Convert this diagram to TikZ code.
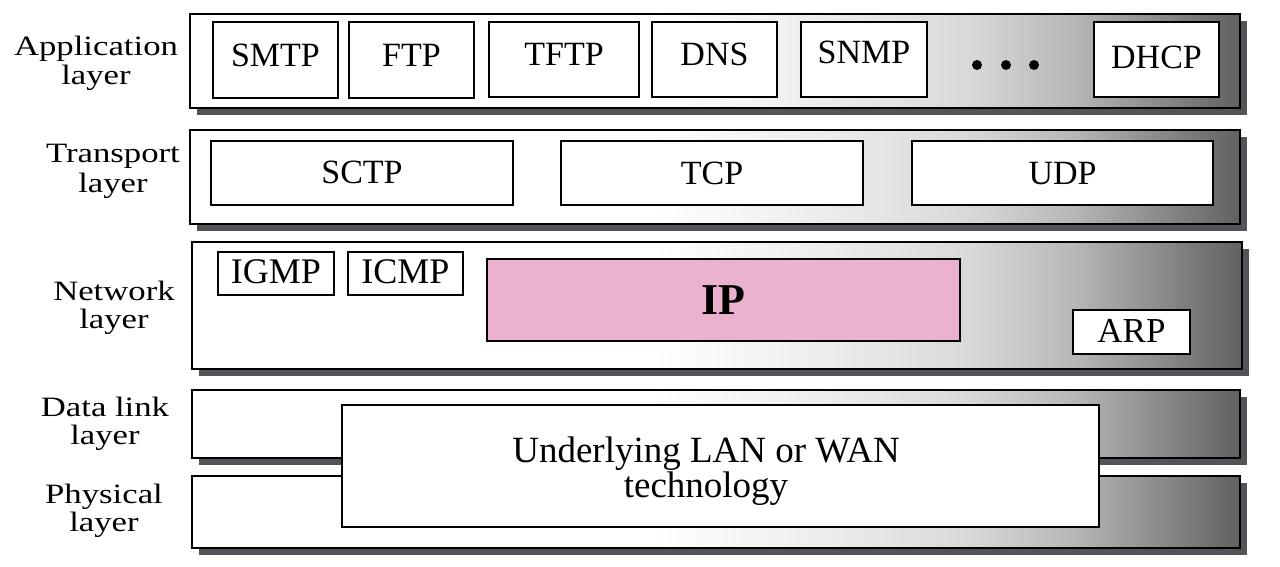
\documentclass[tikz,border=0pt]{standalone}
\usepackage{fontspec}
\setmainfont{Liberation Serif}
\newfontfamily\lblfont[FakeStretch=1.24]{Liberation Serif}
\usetikzlibrary{shadows}
\definecolor{ippink}{RGB}{235,177,206}
\definecolor{shadowgray}{RGB}{84,84,88}
\pgfdeclarehorizontalshading{layershade}{100bp}{color(0bp)=(white); color(47bp)=(white); color(56bp)=(black!8); color(62bp)=(black!15); color(67bp)=(black!28); color(75bp)=(black!62); color(100bp)=(black!62)}
\tikzset{
  layerbar/.style={draw=black, line width=1.6pt, shading=layershade, inner sep=0pt,
    drop shadow={shadow xshift=7pt, shadow yshift=-7pt, fill=shadowgray, opacity=1}},
  pbox/.style={draw=black, line width=1.2pt, fill=white, inner sep=0pt},
  ptxt/.style={font=\fontsize{34}{36}\selectfont, inner sep=0pt, anchor=base},
  lbl/.style={font=\lblfont\fontsize{28}{29}\selectfont, inner sep=0pt, anchor=base},
  dotmark/.style={circle, fill=black, minimum size=10pt, inner sep=0pt},
}
\begin{document}
\begin{tikzpicture}[x=1pt,y=-1pt]
\useasboundingbox (0,0) rectangle (1280,567);
\fill[white] (0,0) rectangle (1280,567);

% layer bars
\node[layerbar, minimum width=1050pt, minimum height=94pt] (app) at (715,61) {};
\node[layerbar, minimum width=1050pt, minimum height=94pt] (trans) at (715,177) {};
\node[layerbar, minimum width=1050pt, minimum height=127pt] (net) at (717,305.5) {};
\node[layerbar, minimum width=1048pt, minimum height=68pt] (dl) at (716,424) {};
\node[layerbar, minimum width=1048pt, minimum height=72pt] (phy) at (716,512) {};

% left labels
\node[lbl] (l1a) at (96,56) {Application};
\node[lbl] (l1b) at (96,85) {layer};
\node[lbl] (l2a) at (113,163) {Transport};
\node[lbl] (l2b) at (113,192) {layer};
\node[lbl] (l3a) at (114,300) {Network};
\node[lbl] (l3b) at (114,328) {layer};
\node[lbl] (l4a) at (105,416) {Data link};
\node[lbl] (l4b) at (105,444) {layer};
\node[lbl] (l5a) at (104,503) {Physical};
\node[lbl] (l5b) at (104,531) {layer};

% application layer protocols
\node[pbox, minimum width=125pt, minimum height=76pt] (smtp) at (275.5,60) {};
\node[ptxt] (tsmtp) at (275.5,67) {SMTP};
\node[pbox, minimum width=125pt, minimum height=76pt] (ftp) at (411.5,60) {};
\node[ptxt] (tftp1) at (411.5,67) {FTP};
\node[pbox, minimum width=150pt, minimum height=75pt] (tftp) at (564,59.5) {};
\node[ptxt] (ttftp) at (564,66) {TFTP};
\node[pbox, minimum width=125pt, minimum height=75pt] (dns) at (714.5,59.5) {};
\node[ptxt] (tdns) at (714.5,66) {DNS};
\node[pbox, minimum width=126pt, minimum height=75pt] (snmp) at (864,59.5) {};
\node[ptxt] (tsnmp) at (864,64) {SNMP};
\node[dotmark] (dot1) at (977,65) {};
\node[dotmark] (dot2) at (1006,65) {};
\node[dotmark] (dot3) at (1034,65) {};
\node[pbox, minimum width=125pt, minimum height=75pt] (dhcp) at (1156.5,59.5) {};
\node[ptxt] (tdhcp) at (1156.5,69) {DHCP};

% transport layer protocols
\node[pbox, minimum width=302pt, minimum height=64pt] (sctp) at (362,173) {};
\node[ptxt] (tsctp) at (362,183) {SCTP};
\node[pbox, minimum width=302pt, minimum height=64pt] (tcp) at (712,173) {};
\node[ptxt] (ttcp) at (712,184) {TCP};
\node[pbox, minimum width=301pt, minimum height=64pt] (udp) at (1062.5,173) {};
\node[ptxt] (tudp) at (1062.5,185) {UDP};

% network layer protocols
\node[pbox, minimum width=116pt, minimum height=43pt] (igmp) at (276,273.5) {};
\node[ptxt, font=\fontsize{36}{38}\selectfont] (tigmp) at (276,283) {IGMP};
\node[pbox, minimum width=115pt, minimum height=43pt] (icmp) at (405.5,273.5) {};
\node[ptxt, font=\fontsize{36}{38}\selectfont] (ticmp) at (405.5,283) {ICMP};
\node[pbox, fill=ippink, minimum width=473pt, minimum height=82pt] (ip) at (723.5,300) {};
\node[ptxt, font=\bfseries\fontsize{44}{46}\selectfont] (tip) at (723.5,314) {IP};
\node[pbox, minimum width=117pt, minimum height=44pt] (arp) at (1131.5,332) {};
\node[ptxt, font=\fontsize{35}{37}\selectfont] (tarp) at (1131.5,342) {ARP};

% underlying technology
\node[pbox, minimum width=757pt, minimum height=122pt] (under) at (720.5,466) {};
\node[ptxt, font=\fontsize{37}{39}\selectfont] (tund1) at (706,462) {Underlying LAN or WAN};
\node[ptxt, font=\fontsize{37}{39}\selectfont] (tund2) at (706,497) {technology};
\end{tikzpicture}
\end{document}
